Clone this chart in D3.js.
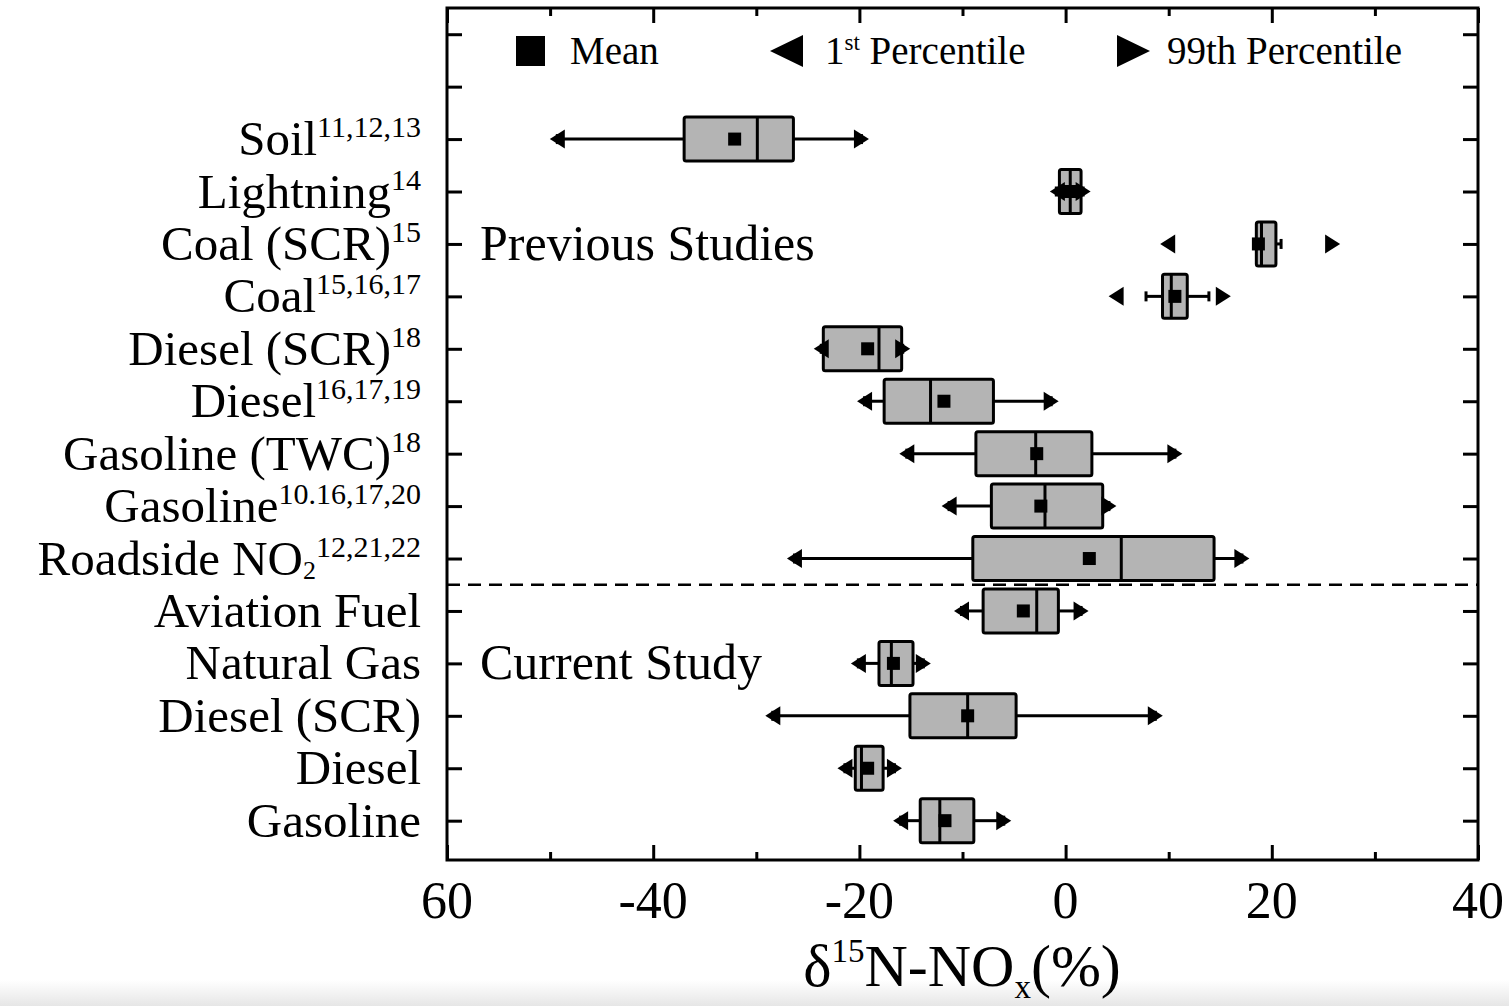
<!DOCTYPE html>
<html><head><meta charset="utf-8">
<script src="https://cdn.jsdelivr.net/npm/d3@7"></script>
<style>html,body{margin:0;padding:0;background:#fff;}svg{display:block;}</style>
</head><body>
<svg id="chart" width="1509" height="1006"></svg>
<script>
// ---- data ----
const categories = ["Soil","Lightning","Coal (SCR)","Coal","Diesel (SCR)","Diesel","Gasoline (TWC)","Gasoline","Roadside NO","Aviation Fuel","Natural Gas","Diesel (SCR)","Diesel","Gasoline"];
const refs = ["11,12,13","14","15","15,16,17","18","16,17,19","18","10.16,17,20","12,21,22","","","","",""];
const subs = ["","","","","","","","","2","","","","",""];
const q1 =     [-37.0, -0.6, 18.5,  9.4, -23.5, -17.6, -8.7, -7.2, -9.0, -8.0, -18.1, -15.1, -20.4, -14.1];
const median = [-29.9, 0.45, 19.0, 10.25, -18.1, -13.1, -2.9, -2.0,  5.4, -2.8, -16.9,  -9.5, -19.8, -12.2];
const q3 =     [-26.4,  1.5, 20.4, 11.8, -15.9,  -7.0, 2.55,  3.6, 14.4, -0.7, -14.8,  -4.8, -17.7,  -8.9];
const means =  [-32.1,  0.4, 18.7, 10.6, -19.2, -11.8, -2.8, -2.4,  2.3, -4.1, -16.7,  -9.5, -19.2, -11.7];
const whiskLo = [-49.3, -0.9, 18.5, 7.8, -23.7, -19.5, -15.4, -11.3, -26.3, -10.1, -20.1, -28.4, -21.4, -16.0];
const whiskHi = [-19.8,  1.7, 20.9, 13.9, -15.8, -1.4, 10.6, 4.2, 17.1, 1.5, -13.8, 8.7, -16.6, -6.0];
const p1 =   [-49.3, -0.8,  9.9, 4.9, -23.7, -19.5, -15.4, -11.3, -26.3, -10.1, -20.1, -28.4, -21.4, -16.0];
const p99 =  [-19.8,  1.7, 25.9, 15.3, -15.8, -1.4, 10.6, 4.2, 17.1, 1.5, -13.8, 8.7, -16.6, -6.0];
const xTickValues = [-60, -40, -20, 0, 20, 40];
const xTickLabels = ["60", "-40", "-20", "0", "20", "40"];
const sectionLabels = ["Previous Studies", "Current Study"];
const sectionRows = [2, 10];
const dividerRow = 8.5;

// ---- layout ----
const svg = d3.select("#chart");
const L = 447, R = 1478, T = 8, B = 860;
const FONT = "'Liberation Serif','Times New Roman',serif";
const x = d3.scaleLinear().domain([-60, 40]).range([L, R]);
const y = d3.scaleLinear().domain([-2.5, 13.75]).range([T, B]);

// bottom grey band (screenshot artifact)
const defs = svg.append("defs");
const grad = defs.append("linearGradient").attr("id","band").attr("x1",0).attr("y1",0).attr("x2",0).attr("y2",1);
grad.append("stop").attr("offset","0%").attr("stop-color","#ffffff");
grad.append("stop").attr("offset","100%").attr("stop-color","#e6e6e6");
svg.append("rect").attr("x",0).attr("y",980).attr("width",1509).attr("height",26).attr("fill","url(#band)");

// axes (inward ticks)
const bottomMajor = d3.axisTop(x).tickValues(d3.range(-60, 41, 20)).tickSize(15).tickFormat("");
const bottomMinor = d3.axisTop(x).tickValues(d3.range(-50, 40, 20)).tickSize(8).tickFormat("");
const topMajor = d3.axisBottom(x).tickValues(d3.range(-60, 41, 20)).tickSize(15).tickFormat("");
const topMinor = d3.axisBottom(x).tickValues(d3.range(-50, 40, 20)).tickSize(8).tickFormat("");
const yTicks = d3.range(-2, 14);
const leftAx = d3.axisRight(y).tickValues(yTicks).tickSize(15).tickFormat("");
const rightAx = d3.axisLeft(y).tickValues(yTicks).tickSize(15).tickFormat("");
function styleAxis(g){ g.select(".domain").remove(); g.selectAll("line").attr("stroke","#000").attr("stroke-width",3); }
svg.append("g").attr("transform",`translate(0,${B})`).call(bottomMajor).call(styleAxis);
svg.append("g").attr("transform",`translate(0,${B})`).call(bottomMinor).call(styleAxis);
svg.append("g").attr("transform",`translate(0,${T})`).call(topMajor).call(styleAxis);
svg.append("g").attr("transform",`translate(0,${T})`).call(topMinor).call(styleAxis);
svg.append("g").attr("transform",`translate(${L},0)`).call(leftAx).call(styleAxis);
svg.append("g").attr("transform",`translate(${R},0)`).call(rightAx).call(styleAxis);
svg.append("rect").attr("x",L).attr("y",T).attr("width",R-L).attr("height",B-T)
  .attr("fill","none").attr("stroke","#000").attr("stroke-width",3);

// x tick labels
svg.append("g").selectAll("text").data(xTickValues).join("text")
  .attr("x", d => x(d)).attr("y", 918)
  .attr("text-anchor","middle").attr("font-family",FONT).attr("font-size",52)
  .text((d,i) => xTickLabels[i]);

// x axis title
const title = svg.append("text").attr("x", 962).attr("y", 986).attr("text-anchor","middle")
  .attr("font-family",FONT).attr("font-size",60);
title.append("tspan").text("δ");
title.append("tspan").attr("font-size",33).attr("dy",-24).text("15");
title.append("tspan").attr("dy",24).text("N-NO");
title.append("tspan").attr("font-size",33).attr("dy",12).text("x");
title.append("tspan").attr("dy",-12).text("(%)");

// category labels
const labG = svg.append("g");
categories.forEach((c,i) => {
  const t = labG.append("text").attr("x", 421).attr("y", y(i) + 16)
    .attr("text-anchor","end").attr("font-family",FONT).attr("font-size",49);
  t.append("tspan").text(c);
  if (subs[i]) t.append("tspan").attr("font-size",26).attr("dy",4).text(subs[i]);
  if (refs[i]) t.append("tspan").attr("font-size",30).attr("dy", subs[i] ? -22 : -18).text(refs[i]);
});

// section labels and divider
svg.append("g").selectAll("text").data(sectionLabels).join("text")
  .attr("x", 480).attr("y", (d,i) => y(sectionRows[i]) + 16)
  .attr("font-family",FONT).attr("font-size",50).text(d => d);
svg.append("line").attr("x1",L).attr("x2",R).attr("y1",y(dividerRow)).attr("y2",y(dividerRow))
  .attr("stroke","#000").attr("stroke-width",2.5).attr("stroke-dasharray","13,8");

// boxes
const BH = 44, TW = 15, TH = 19, MS = 13;
const rows = categories.map((c,i) => ({i, q1:q1[i], med:median[i], q3:q3[i], mean:means[i], wl:whiskLo[i], wh:whiskHi[i], p1:p1[i], p99:p99[i]}));
const g = svg.append("g");
rows.forEach(d => {
  const cy = y(d.i);
  const gg = g.append("g");
  gg.append("line").attr("x1",x(d.wl)).attr("x2",x(d.q1)).attr("y1",cy).attr("y2",cy).attr("stroke","#000").attr("stroke-width",3);
  gg.append("line").attr("x1",x(d.q3)).attr("x2",x(d.wh)).attr("y1",cy).attr("y2",cy).attr("stroke","#000").attr("stroke-width",3);
  [d.wl, d.wh].forEach(w => gg.append("line").attr("x1",x(w)).attr("x2",x(w)).attr("y1",cy-5).attr("y2",cy+5).attr("stroke","#000").attr("stroke-width",3));
  gg.append("rect").attr("x",x(d.q1)).attr("y",cy-BH/2).attr("width",x(d.q3)-x(d.q1)).attr("height",BH)
    .attr("rx",2).attr("fill","#b4b4b4").attr("stroke","#000").attr("stroke-width",3);
  gg.append("line").attr("x1",x(d.med)).attr("x2",x(d.med)).attr("y1",cy-BH/2).attr("y2",cy+BH/2).attr("stroke","#000").attr("stroke-width",3);
  const a = x(d.p1), b = x(d.p99);
  gg.append("path").attr("d",`M${a-TW/2},${cy}L${a+TW/2},${cy-TH/2}L${a+TW/2},${cy+TH/2}Z`).attr("fill","#000");
  gg.append("path").attr("d",`M${b+TW/2},${cy}L${b-TW/2},${cy-TH/2}L${b-TW/2},${cy+TH/2}Z`).attr("fill","#000");
  gg.append("rect").attr("x",x(d.mean)-MS/2).attr("y",cy-MS/2).attr("width",MS).attr("height",MS).attr("fill","#000");
});

// legend
const lg = svg.append("g");
const ly = 51;
lg.append("rect").attr("x",516).attr("y",ly-15).attr("width",29).attr("height",30).attr("fill","#000");
lg.append("text").attr("x",570).attr("y",ly+13).attr("font-family",FONT).attr("font-size",39).text("Mean");
lg.append("path").attr("d",`M770,${ly}L803,${ly-16}L803,${ly+16}Z`).attr("fill","#000");
const t1 = lg.append("text").attr("x",825).attr("y",ly+13).attr("font-family",FONT).attr("font-size",39);
t1.append("tspan").text("1");
t1.append("tspan").attr("font-size",23).attr("dy",-14).text("st");
t1.append("tspan").attr("dy",14).text(" Percentile");
lg.append("path").attr("d",`M1150,${ly}L1117,${ly-16}L1117,${ly+16}Z`).attr("fill","#000");
lg.append("text").attr("x",1167).attr("y",ly+13).attr("font-family",FONT).attr("font-size",39).text("99th Percentile");
</script>
</body></html>
